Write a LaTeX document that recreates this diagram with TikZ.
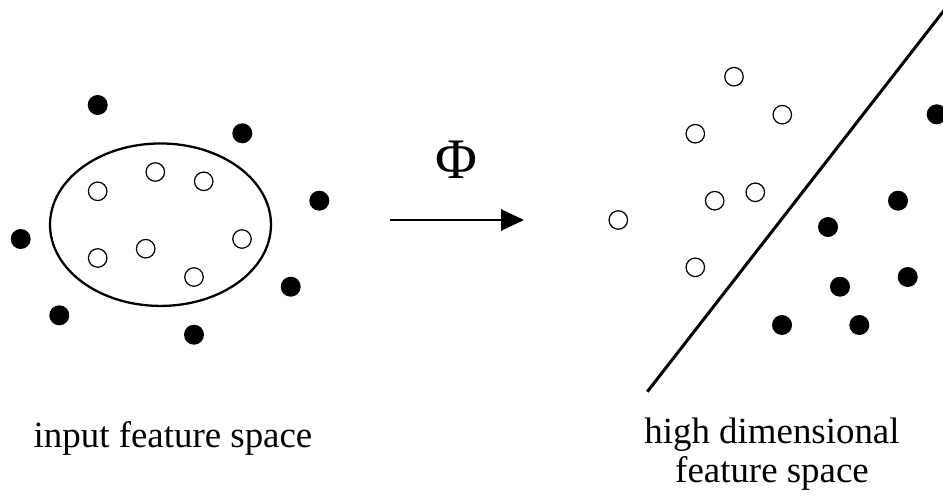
\documentclass[tikz,border=0pt]{standalone}
\usepackage{fontspec}
\setmainfont{Liberation Serif}
\usetikzlibrary{arrows.meta,shapes.geometric,positioning}

\begin{document}
\begin{tikzpicture}[x=0.02cm, y=-0.02cm,
    hollow/.style={circle, draw, line width=0.7pt, minimum size=0.37cm, inner sep=0pt},
    solid/.style={circle, fill=black, minimum size=0.4cm, inner sep=0pt},
    caption/.style={font=\fontsize{21}{22.2}\selectfont, align=center, inner sep=0pt},
    arrow/.style={-{Triangle[length=13pt, width=12pt]}, line width=1.1pt}]

    \clip (0,0) rectangle (943,497);

    % Input feature space
    \node[draw, ellipse, line width=1.3pt, minimum width=4.42cm, minimum height=3.25cm,
      inner sep=0pt] (region) at (160.5,224.7) {};

    \node[hollow] (a1) at (155.3,172) {};
    \node[hollow] (a2) at (97.7,191.3) {};
    \node[hollow] (a3) at (203.7,181.3) {};
    \node[hollow] (a4) at (242,239) {};
    \node[hollow] (a5) at (145.7,248.7) {};
    \node[hollow] (a6) at (97.7,258) {};
    \node[hollow] (a7) at (194,277) {};

    \node[solid] (b1) at (97.7,105) {};
    \node[solid] (b2) at (242.3,133.3) {};
    \node[solid] (b3) at (319.3,200.7) {};
    \node[solid] (b4) at (20.7,239) {};
    \node[solid] (b5) at (290.7,286.7) {};
    \node[solid] (b6) at (59.3,315.3) {};
    \node[solid] (b7) at (194,334.7) {};

    % Mapping
    \coordinate (mapstart) at (390,220);
    \coordinate (mapend) at (524,220);
    \node[font=\fontsize{32.6}{36}\selectfont, inner sep=0pt, anchor=base] (phi) at (456,178) {Φ};
    \draw[arrow] (mapstart) -- (mapend);

    % High dimensional feature space
    \node[hollow] (c1) at (734,76.7) {};
    \node[hollow] (c2) at (782.3,114.7) {};
    \node[hollow] (c3) at (695.3,133.7) {};
    \node[hollow] (c4) at (755.3,192.3) {};
    \node[hollow] (c5) at (714.7,200.7) {};
    \node[hollow] (c6) at (618.3,220) {};
    \node[hollow] (c7) at (695.3,267.3) {};

    \node[solid] (d1) at (936.7,114.3) {};
    \node[solid] (d2) at (898,200.7) {};
    \node[solid] (d3) at (828,227) {};
    \node[solid] (d4) at (907.7,277) {};
    \node[solid] (d5) at (840,286.7) {};
    \node[solid] (d6) at (782,325) {};
    \node[solid] (d7) at (859.3,325) {};

    % Separating plane
    \coordinate (sepbottom) at (647.3,391.7);
    \coordinate (septop) at (956,-5);
    \draw[line width=1.7pt] (sepbottom) -- (septop);

    % Captions
    \node[caption, anchor=base] (incap) at (173,447) {input feature space};
    \node[caption, anchor=base] (outcap) at (772,482) {high dimensional\\feature space};
\end{tikzpicture}
\end{document}
